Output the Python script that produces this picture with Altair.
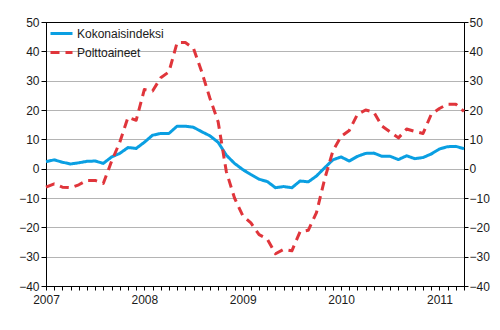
import altair as alt
import pandas as pd

# monthly index: 0 = Jan 2007 ... 51 = Apr 2011
year_start = 2007
months = list(range(52))
series_names = ["Kokonaisindeksi", "Polttoaineet"]
series_colors = ["#0a9fe2", "#e0353b"]

kokonais = [2.4, 3.0, 2.2, 1.6, 2.0, 2.5, 2.6, 1.8, 4.0, 5.2, 7.2, 6.9,
            9.0, 11.4, 12.0, 12.0, 14.5, 14.5, 14.1, 12.6, 11.2, 9.0, 4.6, 1.8,
            -0.3, -2.0, -3.6, -4.4, -6.5, -6.1, -6.5, -4.2, -4.5, -2.5, 0.3, 3.0,
            4.0, 2.6, 4.2, 5.2, 5.3, 4.2, 4.2, 3.1, 4.4, 3.4, 3.8, 5.0,
            6.7, 7.5, 7.6, 6.8]
poltto = [-6.3, -5.2, -6.3, -6.5, -5.5, -4.0, -4.0, -5.0, 2.5, 9.0, 17.5, 16.5,
          27.0, 26.5, 31.0, 33.0, 43.0, 43.0, 41.0, 33.0, 24.0, 16.0, -1.0, -10.0,
          -16.0, -18.5, -22.5, -24.0, -29.0, -27.5, -28.0, -21.5, -21.0, -15.0, -3.5, 6.0,
          11.0, 13.0, 18.5, 20.0, 19.3, 14.5, 12.5, 10.5, 13.5, 12.7, 12.0, 18.5,
          20.5, 22.0, 22.0, 19.5]
y_ticks = list(range(-40, 51, 10))

df = pd.DataFrame({
    "kk": months * 2,
    "arvo": kokonais + poltto,
    "sarja": [series_names[0]] * len(months) + [series_names[1]] * len(months),
})

font = "Liberation Sans"
yscale = alt.Scale(domain=[-40, 50], nice=False, zero=False)
xscale = alt.Scale(domain=[months[0], months[-1]], nice=False, zero=False)

x_axis = alt.Axis(
    values=months,
    labelExpr=f"datum.value % 12 == 0 ? toString({year_start} + datum.value / 12) : ''",
    title=None, grid=False, tickSize=4, domainColor="black", tickColor="black",
    labelPadding=4, labelOverlap=False, labelFlush=False, labelBound=False,
)

grid_color = {"condition": {"test": "datum.value === 50 || datum.value === -40", "value": "black"},
              "value": "#b4b4b4"}

left_axis = alt.Axis(values=y_ticks, title=None, grid=True, gridColor=grid_color,
                     tickSize=5, labelPadding=2, domainColor="black", tickColor="black")
right_axis = alt.Axis(values=y_ticks, title=None, grid=False, orient="right",
                      tickSize=4, labelPadding=1, domainColor="black", tickColor="black")

legend = alt.Legend(title=None, orient="none", legendX=3, legendY=-1,
                    symbolType="stroke", symbolSize=484, symbolStrokeWidth=3,
                    labelFont=font, labelFontSize=12, labelColor="#1a1a1a",
                    rowPadding=-8, labelOffset=3, padding=0)

lines = alt.Chart(df).mark_line(strokeWidth=3, strokeJoin="round").encode(
    x=alt.X("kk:Q", scale=xscale, axis=x_axis),
    y=alt.Y("arvo:Q", scale=yscale, axis=left_axis),
    color=alt.Color("sarja:N", scale=alt.Scale(domain=series_names, range=series_colors), legend=legend),
    strokeDash=alt.StrokeDash("sarja:N", scale=alt.Scale(domain=series_names, range=[[1, 0], [9, 6]]), legend=legend),
)

right = alt.Chart(df).mark_line(opacity=0).encode(
    x=alt.X("kk:Q", scale=xscale, axis=x_axis),
    y=alt.Y("arvo:Q", scale=yscale, axis=right_axis),
    detail="sarja:N",
)

chart = alt.layer(lines, right).resolve_axis(y="independent").properties(
    width=418, height=264,
    autosize=alt.AutoSizeParams(type="none"),
    padding={"left": 38, "top": 14, "right": 28, "bottom": 26},
).configure_view(stroke="black", strokeWidth=1).configure_axis(
    labelFont=font, labelFontSize=12, labelColor="#1a1a1a"
)

chart.save("out.html", embed_options={"renderer": "svg", "actions": False})
